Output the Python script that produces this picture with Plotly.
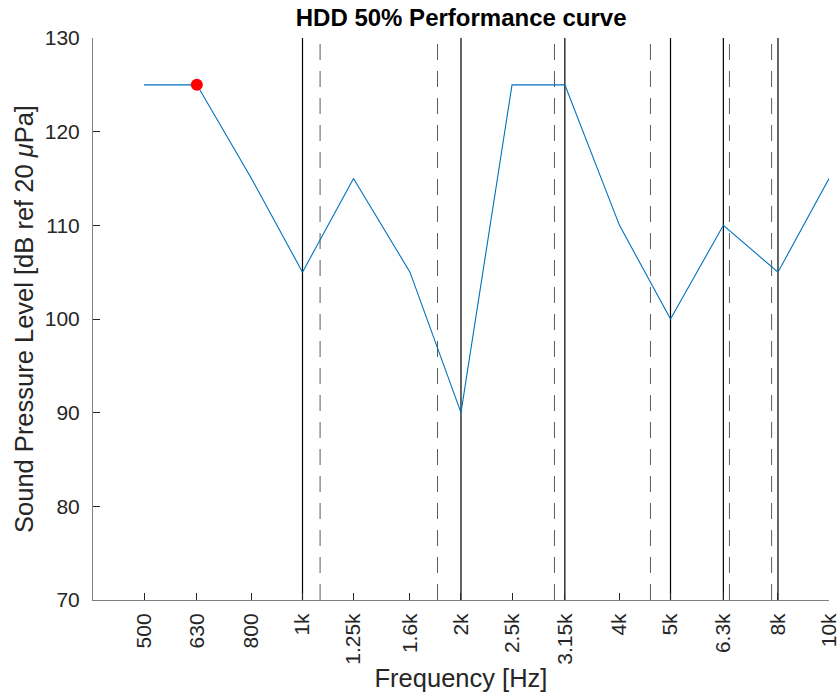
import plotly.graph_objects as go

freqs = [500, 630, 800, 1000, 1250, 1600, 2000, 2500, 3150, 4000, 5000, 6300, 8000, 10000]
tick_labels = ["500", "630", "800", "1k", "1.25k", "1.6k", "2k", "2.5k", "3.15k", "4k", "5k", "6.3k", "8k", "10k"]
spl = [125, 125, 115, 105, 115, 105, 90, 125, 125, 110, 100, 110, 105, 115]
marker_freq = [630]
marker_spl = [125]
solid_lines = [1000, 2000, 3150, 5000, 6300, 8000]
dashed_lines = [1080, 1805, 3010, 4580, 6470, 7780]
y_range = [70, 130]

FONT = "Liberation Sans, Arial, sans-serif"

fig = go.Figure()

for f in dashed_lines:
    fig.add_trace(go.Scatter(x=[f, f], y=y_range, mode="lines",
                             line=dict(color="#5a5a5a", width=1, dash="16px,11px"),
                             showlegend=False, hoverinfo="skip"))
for f in solid_lines:
    fig.add_trace(go.Scatter(x=[f, f], y=y_range, mode="lines",
                             line=dict(color="#000000", width=1.2),
                             showlegend=False, hoverinfo="skip"))

fig.add_trace(go.Scatter(x=freqs, y=spl, mode="lines",
                         line=dict(color="#0072BD", width=1.1),
                         showlegend=False))
fig.add_trace(go.Scatter(x=marker_freq, y=marker_spl, mode="markers",
                         marker=dict(color="#FF0000", size=12),
                         showlegend=False))

fig.update_layout(
    width=840, height=700,
    margin=dict(l=93, r=11, t=38, b=100, autoexpand=False),
    paper_bgcolor="white", plot_bgcolor="white",
    font=dict(family=FONT, color="#262626", size=21),
    title=dict(text="<b>HDD 50% Performance curve</b>", x=0.549, xanchor="center",
               y=0.975, yanchor="middle",
               font=dict(family=FONT, size=24, color="#000000")),
)
fig.update_xaxes(
    type="log", range=[2.6021, 4.0], automargin=False,
    tickvals=freqs, ticktext=tick_labels, tickangle=-90,
    ticks="inside", ticklen=7, tickcolor="#262626", tickwidth=1,
    ticklabelstandoff=4,
    showline=True, linecolor="#808080", linewidth=1,
    showgrid=False, zeroline=False,
    tickfont=dict(size=21, color="#262626"),
    title=dict(text="Frequency [Hz]", font=dict(size=25.5, color="#262626"), standoff=5),
)
fig.update_yaxes(
    range=y_range, tickvals=[70, 80, 90, 100, 110, 120, 130], automargin=False,
    ticks="inside", ticklen=7, tickcolor="#262626", tickwidth=1,
    ticklabelstandoff=8,
    showline=True, linecolor="#808080", linewidth=1,
    showgrid=False, zeroline=False,
    tickfont=dict(size=21, color="#262626"),
    title=dict(text="Sound Pressure Level [dB ref 20 <i>μ</i>Pa]",
               font=dict(size=25.5, color="#262626"), standoff=3),
)

fig.write_html("out.html",
               config={"displayModeBar": False},
               post_script="document.body.style.margin='0';document.body.style.overflow='hidden';")
